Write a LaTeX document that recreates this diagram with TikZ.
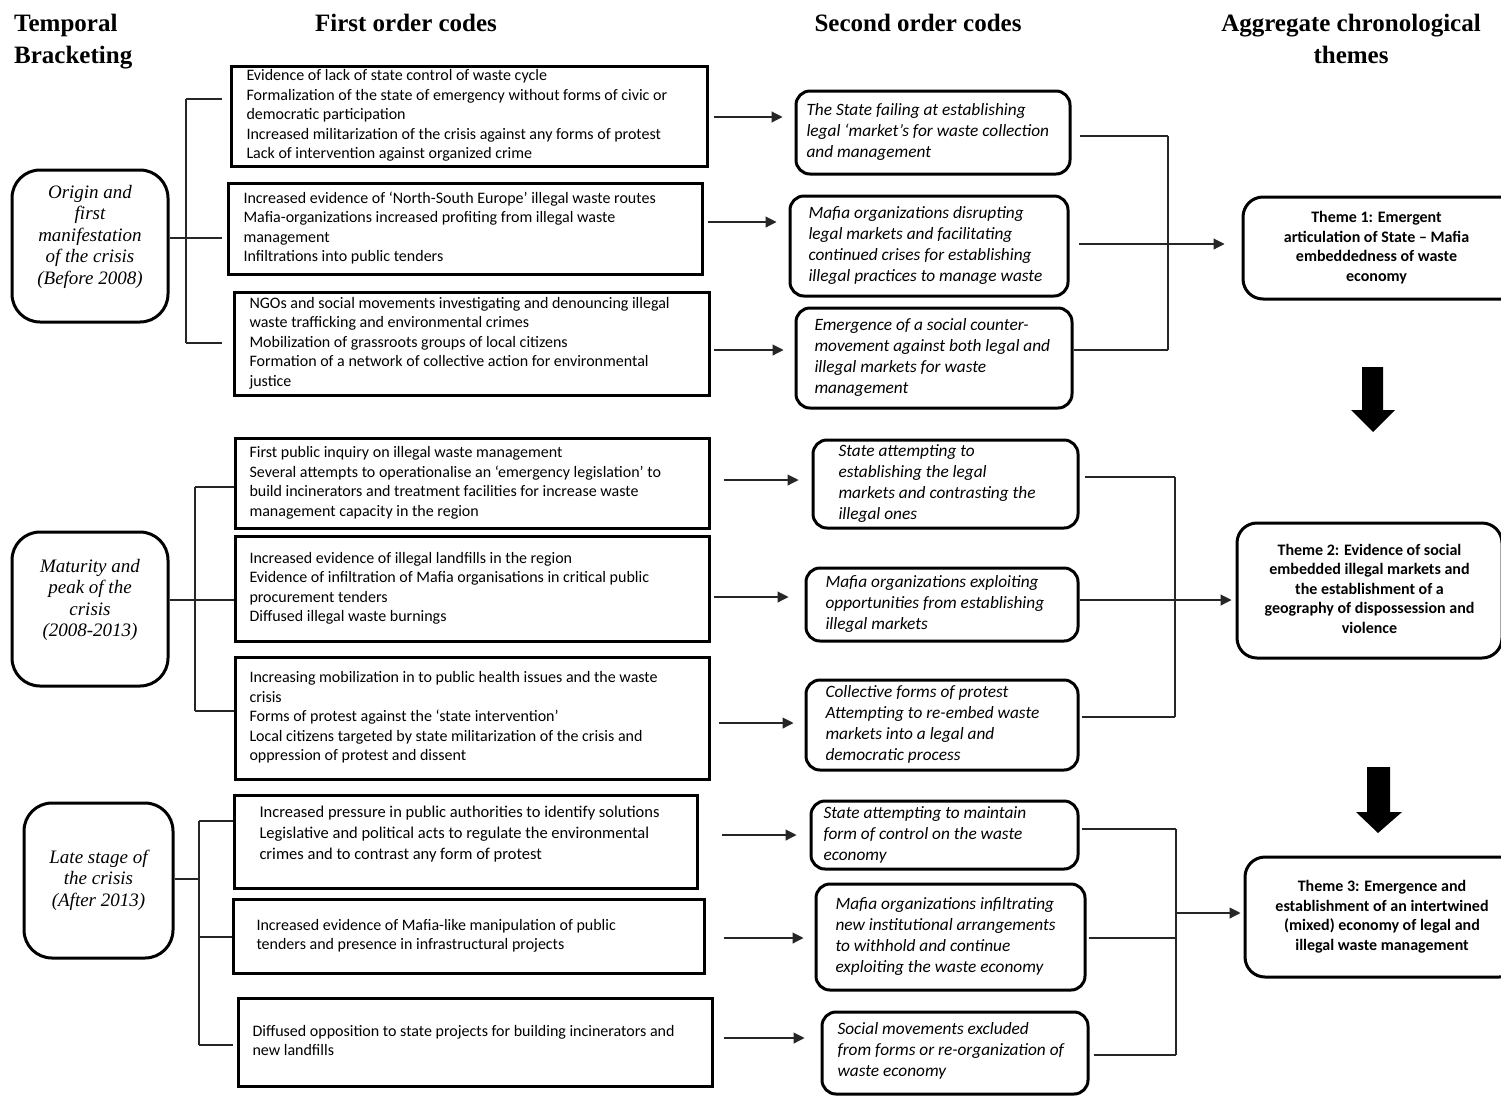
\documentclass[tikz,border=0pt]{standalone}
\usepackage{fontspec}
\usetikzlibrary{arrows.meta}
\newfontfamily\calf{Carlito}
\newfontfamily\timesf{Liberation Serif}
% left-aligned text block of given width, raised by #2
\newcommand\lblock[3]{\makebox[#1][l]{\raisebox{#2}[\height][\depth]{\begin{tabular}{@{}l@{}}#3\end{tabular}}}}
\newcommand\cblock[2]{\raisebox{#1}[\height][\depth]{\begin{tabular}{@{}c@{}}#2\end{tabular}}}
\begin{document}
\begin{tikzpicture}[x=1pt,y=-1pt,
 fo/.style={draw, line width=3pt, inner ysep=0pt, font=\calf\fontsize{16}{19.5}\selectfont},
 so/.style={draw, line width=3pt, rounded corners=14pt, inner ysep=0pt, font=\calf\itshape\fontsize{17.3}{21}\selectfont},
 th/.style={draw, line width=3pt, rounded corners=20pt, inner sep=0pt, font=\calf\bfseries\fontsize{16}{19.5}\selectfont},
 tb/.style={draw, line width=3pt, rounded corners=28pt, inner sep=0pt, font=\timesf\itshape\fontsize{19}{21.5}\selectfont},
 hd/.style={inner sep=0pt, font=\timesf\bfseries\fontsize{25}{32}\selectfont},
 conn/.style={line width=1.1pt, draw=black!85},
 arr/.style={conn, -{Triangle[length=11pt,width=11pt]}},
 blk/.style={fill=black, draw=none}
]
\clip (0,0) rectangle (1501,1096);
\fill[white] (0,0) rectangle (1501,1096);

% headings
\node[hd, anchor=west, align=left] (h1) at (14,41.5) {Temporal\\Bracketing};
\node[hd] (h2) at (406,23) {First order codes};
\node[hd] (h3) at (918,23) {Second order codes};
\node[hd, align=center] (h4) at (1351,39) {Aggregate chronological\\themes};

% temporal brackets
\node[tb, minimum width=156pt, minimum height=152pt] (L1) at (90,246) {\cblock{9pt}{Origin and\\first\\manifestation\\of the crisis\\(Before 2008)}};
\node[tb, minimum width=156pt, minimum height=154pt] (L2) at (90,609) {\cblock{9pt}{Maturity and\\peak of the\\crisis\\(2008-2013)}};
\node[tb, minimum width=149pt, minimum height=155pt] (L3) at (98.5,880.5) {\cblock{0pt}{Late stage of\\the crisis\\(After 2013)}};

% first order codes
\node[fo, inner xsep=15.5pt, minimum width=476pt, minimum height=100pt] (F1) at (469,116) {\lblock{445pt}{0pt}{Evidence of lack of state control of waste cycle\\Formalization of the state of emergency without forms of civic or\\democratic participation\\Increased militarization of the crisis against any forms of protest\\Lack of intervention against organized crime}};
\node[fo, inner xsep=15.5pt, minimum width=474pt, minimum height=91pt] (F2) at (465,228.5) {\lblock{443pt}{0pt}{Increased evidence of ‘North-South Europe’ illegal waste routes\\Mafia-organizations increased profiting from illegal waste\\management\\Infiltrations into public tenders}};
\node[fo, inner xsep=15.5pt, minimum width=475pt, minimum height=103pt] (F3) at (471.5,343.5) {\lblock{444pt}{0pt}{NGOs and social movements investigating and denouncing illegal\\waste trafficking and environmental crimes\\Mobilization of grassroots groups of local citizens\\Formation of a network of collective action for environmental\\justice}};
\node[fo, inner xsep=14.5pt, minimum width=474pt, minimum height=90pt] (F4) at (472,483) {\lblock{445pt}{0pt}{First public inquiry on illegal waste management\\Several attempts to operationalise an ‘emergency legislation’ to\\build incinerators and treatment facilities for increase waste\\management capacity in the region}};
\node[fo, inner xsep=14.5pt, minimum width=474pt, minimum height=105pt] (F5) at (472,588.5) {\lblock{445pt}{0pt}{Increased evidence of illegal landfills in the region\\Evidence of infiltration of Mafia organisations in critical public\\procurement tenders\\Diffused illegal waste burnings}};
\node[fo, inner xsep=14.5pt, minimum width=474pt, minimum height=122pt] (F6) at (472,718) {\lblock{445pt}{0pt}{Increasing mobilization in to public health issues and the waste\\crisis\\Forms of protest against the ‘state intervention’\\Local citizens targeted by state militarization of the crisis and\\oppression of protest and dissent}};
\node[fo, inner xsep=25.5pt, minimum width=463pt, minimum height=93pt, font=\calf\fontsize{16.5}{21}\selectfont] (F7) at (465.5,841.5) {\lblock{412pt}{7pt}{Increased pressure in public authorities to identify solutions\\Legislative and political acts to regulate the environmental\\crimes and to contrast any form of protest}};
\node[fo, inner xsep=23.5pt, minimum width=471pt, minimum height=74pt] (F8) at (468.5,936) {\lblock{424pt}{0pt}{Increased evidence of Mafia-like manipulation of public\\tenders and presence in infrastructural projects}};
\node[fo, inner xsep=14.5pt, minimum width=474pt, minimum height=88pt] (F9) at (475,1042) {\lblock{445pt}{0pt}{Diffused opposition to state projects for building incinerators and\\new landfills}};

% second order codes
\node[so, inner xsep=10.5pt, minimum width=274pt, minimum height=83pt] (S1) at (933,132.5) {\lblock{253pt}{0pt}{The State failing at establishing\\legal ‘market’s for waste collection\\and management}};
\node[so, inner xsep=18.5pt, minimum width=278pt, minimum height=100pt] (S2) at (929,246) {\lblock{241pt}{0pt}{Mafia organizations disrupting\\legal markets and facilitating\\continued crises for establishing\\illegal practices to manage waste}};
\node[so, inner xsep=18.5pt, minimum width=276pt, minimum height=100pt] (S3) at (934,358) {\lblock{239pt}{0pt}{Emergence of a social counter-\\movement against both legal and\\illegal markets for waste\\management}};
\node[so, inner xsep=25.5pt, minimum width=265pt, minimum height=88pt] (S4) at (945.5,484) {\lblock{214pt}{0pt}{State attempting to\\establishing the legal\\markets and contrasting the\\illegal ones}};
\node[so, inner xsep=19.5pt, minimum width=272pt, minimum height=73pt] (S5) at (942,604.5) {\lblock{233pt}{0pt}{Mafia organizations exploiting\\opportunities from establishing\\illegal markets}};
\node[so, inner xsep=19.5pt, minimum width=272pt, minimum height=90pt] (S6) at (942,725) {\lblock{233pt}{0pt}{Collective forms of protest\\Attempting to re-embed waste\\markets into a legal and\\democratic process}};
\node[so, inner xsep=12.5pt, minimum width=267pt, minimum height=68pt] (S7) at (944.5,835) {\lblock{242pt}{0pt}{State attempting to maintain\\form of control on the waste\\economy}};
\node[so, inner xsep=19.5pt, minimum width=269pt, minimum height=106pt] (S8) at (950.5,937) {\lblock{230pt}{0pt}{Mafia organizations infiltrating\\new institutional arrangements\\to withhold and continue\\exploiting the waste economy}};
\node[so, inner xsep=15.5pt, minimum width=266pt, minimum height=82pt] (S9) at (955,1053) {\lblock{235pt}{2pt}{Social movements excluded\\from forms or re-organization of\\waste economy}};

% themes
\node[th, minimum width=291pt, minimum height=102pt] (T1) at (1388.5,248) {\cblock{0pt}{Theme 1: Emergent\\articulation of State – Mafia\\embeddedness of waste\\economy}\kern24pt\relax};
\node[th, minimum width=265pt, minimum height=135pt] (T2) at (1369.5,590.5) {\cblock{0pt}{Theme 2: Evidence of social\\embedded illegal markets and\\the establishment of a\\geography of dispossession and\\violence}};
\node[th, minimum width=274pt, minimum height=120pt] (T3) at (1382,917) {\cblock{0pt}{Theme 3: Emergence and\\establishment of an intertwined\\(mixed) economy of legal and\\illegal waste management}};

% left brackets
\coordinate (g1t) at (186,99); \coordinate (g1m) at (186,238); \coordinate (g1b) at (186,343);
\draw[conn] (g1t) -- (g1b);
\draw[conn, shorten >=8pt] (g1t) -- (g1t -| F1.west);
\draw[conn, shorten >=5pt] (g1m) -- (g1m -| F2.west);
\draw[conn, shorten >=11pt] (g1b) -- (g1b -| F3.west);
\draw[conn] (g1m -| L1.east) -- (g1m);

\coordinate (g2t) at (195,487); \coordinate (g2m) at (195,600); \coordinate (g2b) at (195,711);
\draw[conn] (g2t) -- (g2b);
\draw[conn] (g2t) -- (g2t -| F4.west);
\draw[conn] (g2m) -- (g2m -| F5.west);
\draw[conn] (g2b) -- (g2b -| F6.west);
\draw[conn] (g2m -| L2.east) -- (g2m);

\coordinate (g3t) at (199,821); \coordinate (g3j) at (199,879); \coordinate (g3m) at (199,937); \coordinate (g3b) at (199,1045);
\draw[conn] (g3t) -- (g3b);
\draw[conn] (g3t) -- (g3t -| F7.west);
\draw[conn] (g3m) -- (g3m -| F8.west);
\draw[conn, shorten >=4pt] (g3b) -- (g3b -| F9.west);
\draw[conn] (g3j -| L3.east) -- (g3j);

% first -> second order arrows
\draw[arr, shorten <=5pt, shorten >=12pt] (F1.east |- 0,117) -- (S1.west |- 0,117);
\draw[arr, shorten <=4pt, shorten >=12pt] (F2.east |- 0,222) -- (S2.west |- 0,222);
\draw[arr, shorten <=3pt, shorten >=11pt] (F3.east |- 0,350) -- (S3.west |- 0,350);
\draw[arr, shorten <=13pt, shorten >=13pt] (F4.east |- 0,480) -- (S4.west |- 0,480);
\draw[arr, shorten <=3pt, shorten >=16pt] (F5.east |- 0,597) -- (S5.west |- 0,597);
\draw[arr, shorten <=8pt, shorten >=11pt] (F6.east |- 0,723) -- (S6.west |- 0,723);
\draw[arr, shorten <=23pt, shorten >=13pt] (F7.east |- 0,835) -- (S7.west |- 0,835);
\draw[arr, shorten <=18pt, shorten >=11pt] (F8.east |- 0,938) -- (S8.west |- 0,938);
\draw[arr, shorten <=10pt, shorten >=16pt] (F9.east |- 0,1038) -- (S9.west |- 0,1038);

% second order -> themes
\coordinate (k1t) at (1168,136); \coordinate (k1b) at (1168,350);
\draw[conn] (k1t) -- (k1b);
\draw[conn, shorten <=8pt] (S1.east |- k1t) -- (k1t);
\draw[conn] (S3.east |- k1b) -- (k1b);
\draw[arr, shorten <=9pt, shorten >=17pt] (S2.east |- 0,244) -- (T1.west |- 0,244);

\coordinate (k2t) at (1175,477); \coordinate (k2b) at (1175,717);
\draw[conn] (k2t) -- (k2b);
\draw[conn, shorten <=5pt] (S4.east |- k2t) -- (k2t);
\draw[conn, shorten <=2pt] (S6.east |- k2b) -- (k2b);
\draw[arr, shorten >=4pt] (S5.east |- 0,600) -- (T2.west |- 0,600);

\coordinate (k3t) at (1176,829); \coordinate (k3a) at (1176,913); \coordinate (k3m) at (1176,938); \coordinate (k3b) at (1176,1055);
\draw[conn] (k3t) -- (k3b);
\draw[conn, shorten <=2pt] (S7.east |- k3t) -- (k3t);
\draw[conn, shorten <=2pt] (S8.east |- k3m) -- (k3m);
\draw[conn, shorten <=4pt] (S9.east |- k3b) -- (k3b);
\draw[arr, shorten >=3pt] (k3a) -- (k3a -| T3.west);

% block arrows between themes
\fill[blk] (1362,367) -- (1383,367) -- (1383,410) -- (1395,410) -- (1373,432) -- (1351,410) -- (1362,410) -- cycle;
\fill[blk] (1367,767) -- (1390,767) -- (1390,812) -- (1402,812) -- (1378,833) -- (1356,812) -- (1367,812) -- cycle;
\end{tikzpicture}
\end{document}
